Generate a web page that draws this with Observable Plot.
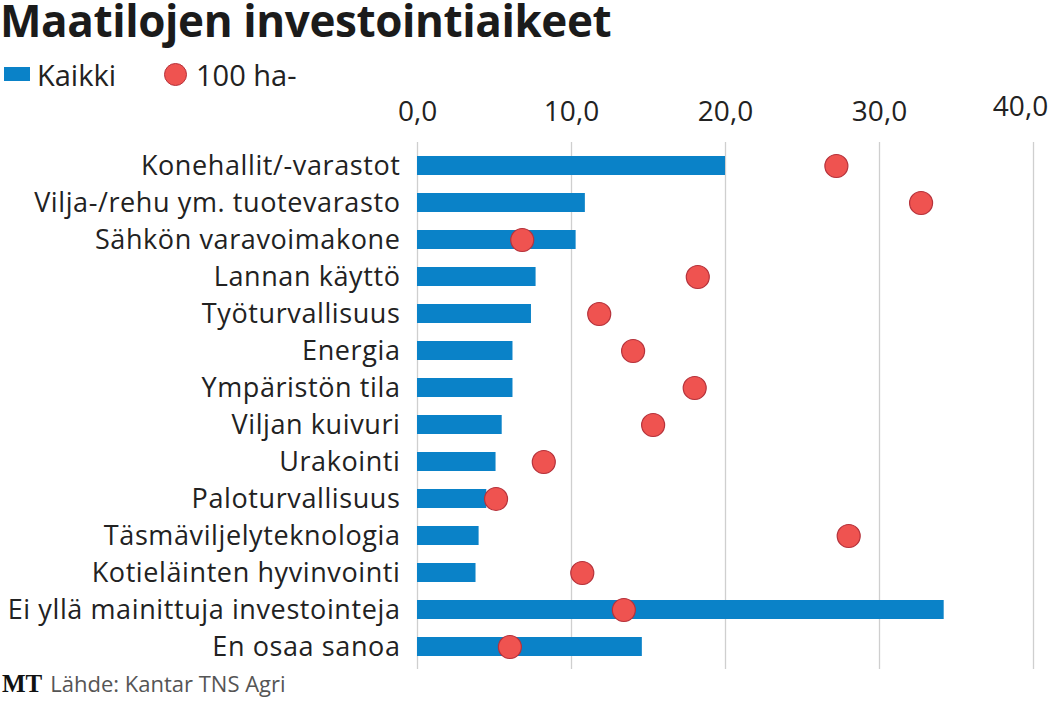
<!DOCTYPE html>
<html><head><meta charset="utf-8">
<script src="https://cdn.jsdelivr.net/npm/d3@7"></script>
<script src="https://cdn.jsdelivr.net/npm/@observablehq/plot@0.6"></script>
<style>
body{margin:0;background:#fff;font-family:"Open Sans",Lato,sans-serif;}
#wrap{position:relative;width:1051px;height:702px;overflow:hidden;}
#title{position:absolute;left:0;top:1px;font-family:"Open Sans",sans-serif;font-size:44px;font-weight:700;color:#1b1b1b;letter-spacing:-0.4px;white-space:nowrap;line-height:38px;}
#legend{position:absolute;left:4px;top:54px;font-size:29px;color:#222;display:flex;align-items:center;height:40px;}
.sw{display:inline-block;width:26px;height:14px;background:#0a82c8;margin-right:7px;}
.dot{display:inline-block;width:23px;height:23px;border-radius:50%;background:#ef5350;border:1px solid #b5323b;margin-left:48px;margin-right:9px;box-sizing:border-box;}
#chart{position:absolute;left:0;top:90px;}
#chart svg{display:block;}
#chart svg g[aria-label="y-axis tick label"] text{letter-spacing:0.6px;}
#cap{position:absolute;left:2px;top:668px;font-size:22px;color:#555;white-space:nowrap;}
#cap b{font-family:"Liberation Serif","DejaVu Serif",serif;color:#111;font-size:25px;margin-right:8px;}
</style></head>
<body><div id="wrap">
<div id="title">Maatilojen investointiaikeet</div>
<div id="legend"><span class="sw"></span>Kaikki<span class="dot"></span>100 ha-</div>
<div id="chart"></div>
<div id="cap"><b>MT</b>Lähde: Kantar TNS Agri</div>
</div>
<script>
const categories = ["Konehallit/-varastot","Vilja-/rehu ym. tuotevarasto","Sähkön varavoimakone","Lannan käyttö","Työturvallisuus","Energia","Ympäristön tila","Viljan kuivuri","Urakointi","Paloturvallisuus","Täsmäviljelyteknologia","Kotieläinten hyvinvointi","Ei yllä mainittuja investointeja","En osaa sanoa"];
const kaikki = [20.0,10.9,10.3,7.7,7.4,6.2,6.2,5.5,5.1,4.5,4.0,3.8,34.2,14.6];
const ha100 = [27.2,32.7,6.8,18.2,11.8,14.0,18.0,15.3,8.2,5.1,28.0,10.7,13.4,6.0];
const ticks = [0,10,20,30,40];

const data = categories.map((c,i)=>({cat:c,kaikki:kaikki[i],ha:ha100[i]}));
const fmt = d => d.toFixed(1).replace(".", ",");

const chart = Plot.plot({
  width:1051, height:590,
  marginLeft:417, marginRight:18, marginTop:52, marginBottom:11,
  style:{fontFamily:"'Open Sans', Lato, sans-serif", fontSize:"24px", color:"#222", background:"#fff"},
  x:{domain:[0,40]},
  y:{domain:categories, padding:0},
  marks:[
    Plot.ruleX(ticks,{stroke:"#cfcfcf", strokeWidth:1.3}),
    Plot.barX(data,{y:"cat", x:"kaikki", fill:"#0a82c8", insetTop:9, insetBottom:9}),
    Plot.dot(data,{y:"cat", x:"ha", r:11.5, fill:"#ef5350", stroke:"#b5323b", strokeWidth:1.2}),
    Plot.axisX(ticks.slice(0,4),{anchor:"top", tickSize:0, tickPadding:22, tickFormat:fmt, fontSize:28, fill:"#222", label:null}),
    Plot.axisX([40],{anchor:"top", tickSize:0, tickPadding:27, dx:-13, tickFormat:fmt, fontSize:28, fill:"#222", label:null}),
    Plot.axisY({tickSize:0, tickPadding:17, fontSize:27, fill:"#222", label:null})
  ]
});
document.getElementById("chart").appendChild(chart);
</script>
</body></html>
